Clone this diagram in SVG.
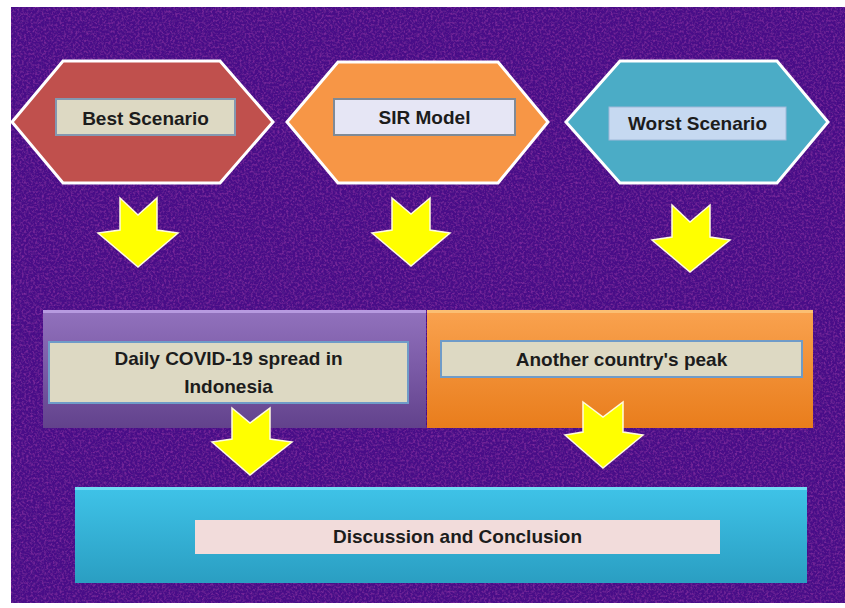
<svg xmlns="http://www.w3.org/2000/svg" width="845" height="608" viewBox="0 0 845 608">
<defs>
  <filter id="tex" x="0" y="0" width="100%" height="100%">
    <feTurbulence type="fractalNoise" baseFrequency="0.45" numOctaves="3" seed="3" result="n"/>
    <feColorMatrix in="n" type="matrix" values="0 0 0 0 0.45  0 0 0 0 0.05  0 0 0 0 0.5  0 0 0 0.9 -0.42" result="c"/>
    <feComposite in="c" in2="SourceGraphic" operator="atop"/>
  </filter>
  <linearGradient id="gPurple" x1="0" y1="0" x2="0" y2="1">
    <stop offset="0" stop-color="#9272bd"/>
    <stop offset="0.5" stop-color="#7a5aa6"/>
    <stop offset="1" stop-color="#62428c"/>
  </linearGradient>
  <linearGradient id="gOrange" x1="0" y1="0" x2="0" y2="1">
    <stop offset="0" stop-color="#f9a24f"/>
    <stop offset="1" stop-color="#e97d1c"/>
  </linearGradient>
  <linearGradient id="gBlue" x1="0" y1="0" x2="0" y2="1">
    <stop offset="0" stop-color="#3fc3e8"/>
    <stop offset="1" stop-color="#2a9ec2"/>
  </linearGradient>
  <style>
    .hex { stroke: #ffffff; stroke-width: 3; stroke-linejoin: miter; }
    .lbl { font-family: "Liberation Sans", Arial, sans-serif; font-weight: bold; font-size: 19px; fill: #1c1c1c; text-anchor: middle; }
    .arrow { fill: #ffff00; stroke: #fffbe0; stroke-width: 1.5; stroke-linejoin: miter; }
  </style>
</defs>

<rect x="0" y="0" width="845" height="608" fill="#ffffff"/>
<rect x="11" y="7" width="834" height="596" fill="#4a1188" filter="url(#tex)"/>

<g id="best-scenario">
  <polygon class="hex" points="12,122 63,61 220,61 273,122 220,183 63,183" fill="#c0504d"/>
  <rect x="56" y="99" width="179" height="36" fill="#ddd9c3" stroke="#8497b0" stroke-width="2"/>
  <text class="lbl" x="145.5" y="125">Best Scenario</text>
</g>

<g id="sir-model">
  <polygon class="hex" points="287,122 338,62 498,62 548,122 498,183 338,183" fill="#f79646"/>
  <rect x="334" y="99" width="181" height="36" fill="#e6e6f5" stroke="#808a96" stroke-width="2"/>
  <text class="lbl" x="424.5" y="124">SIR Model</text>
</g>

<g id="worst-scenario">
  <polygon class="hex" points="566,122 620,61 777,61 828,122 777,183 620,183" fill="#4bacc6"/>
  <rect x="609" y="107" width="177" height="33" fill="#c6d9f1" stroke="#9fb8d8" stroke-width="1"/>
  <text class="lbl" x="697.5" y="130">Worst Scenario</text>
</g>

<g id="daily-covid">
  <rect x="43" y="310" width="383" height="118" fill="url(#gPurple)"/>
  <rect x="43" y="310" width="383" height="3" fill="#b79ae0"/>
  <rect x="49" y="342" width="359" height="61" fill="#ddd9c3" stroke="#6f9bc8" stroke-width="2"/>
  <text class="lbl" x="228.5" y="365">Daily COVID-19 spread in</text>
  <text class="lbl" x="228.5" y="393">Indonesia</text>
</g>

<g id="another-country">
  <rect x="427" y="310" width="386" height="118" fill="url(#gOrange)"/>
  <rect x="427" y="310" width="386" height="3" fill="#fbbf73"/>
  <rect x="441" y="341" width="361" height="36" fill="#ddd9c3" stroke="#6f9bc8" stroke-width="2"/>
  <text class="lbl" x="621.5" y="366">Another country's peak</text>
</g>

<g id="discussion">
  <rect x="75" y="487" width="732" height="96" fill="url(#gBlue)"/>
  <rect x="75" y="487" width="732" height="3" fill="#6fdcf5"/>
  <rect x="195" y="520" width="525" height="34" fill="#f2dcdb"/>
  <text class="lbl" x="457.5" y="543">Discussion and Conclusion</text>
</g>

<g id="connectors">
  <polygon class="arrow" points="120,198 138,215 157,198 157,230 178,233 138,267 98,233 120,230"/>
  <polygon class="arrow" points="392,198 411,214 430,198 430,230 450,233 411,266 372,233 392,230"/>
  <polygon class="arrow" points="672,205 690,222 710,205 710,237 730,240 690,272 652,240 672,237"/>
  <polygon class="arrow" points="232,408 250,423 270,408 270,439 292,442 250,475 212,442 232,439"/>
  <polygon class="arrow" points="583,402 603,417 623,402 623,432 643,435 603,468 565,435 583,432"/>
</g>
</svg>
